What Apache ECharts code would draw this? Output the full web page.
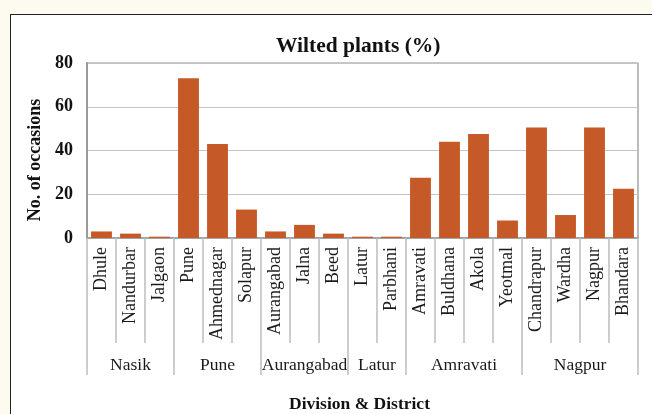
<!DOCTYPE html>
<html>
<head>
<meta charset="utf-8">
<script src="https://cdn.jsdelivr.net/npm/echarts@6/dist/echarts.min.js"></script>
<style>
  html, body { margin: 0; padding: 0; background: #fdfbef; }
  #frame { position: absolute; left: 10px; top: 14px; right: 0; bottom: 0;
           background: #ffffff; border-left: 1.5px solid #222; border-top: 1.5px solid #222; }
  #chart { position: absolute; left: 0; top: 0; width: 652px; height: 414px; }
</style>
</head>
<body>
<div id="frame"></div>
<div id="chart"></div>
<script>
// Districts grouped by division, in drawing order
const districts = ['Dhule', 'Nandurbar', 'Jalgaon', 'Pune', 'Ahmednagar', 'Solapur',
  'Aurangabad', 'Jalna', 'Beed', 'Latur', 'Parbhani', 'Amravati', 'Buldhana', 'Akola',
  'Yeotmal', 'Chandrapur', 'Wardha', 'Nagpur', 'Bhandara'];
// Number of occasions with wilted plants per district
const occasions = [3, 2, 0.6, 73, 43, 13, 3, 6, 2, 0.6, 0.6, 27.5, 44, 47.5, 8, 50.5, 10.5, 50.5, 22.5];
const divisions = ['Nasik', 'Pune', 'Aurangabad', 'Latur', 'Amravati', 'Nagpur'];
const divisionSizes = [3, 3, 3, 2, 4, 4];
const yTicks = [0, 20, 40, 60, 80];

// Division boundaries and centres, in category units along the x axis
const bounds = [0];
divisionSizes.forEach(n => bounds.push(bounds[bounds.length - 1] + n));
const centres = divisionSizes.map((n, i) => bounds[i] + n / 2);

const serif = '"Liberation Serif", "Times New Roman", serif';
const chart = echarts.init(document.getElementById('chart'), null, { renderer: 'canvas' });

chart.setOption({
  backgroundColor: 'transparent',
  animation: false,
  title: [{
    text: 'Wilted plants (%)',
    left: 271, top: 30,
    textStyle: { fontFamily: serif, fontWeight: 'bold', fontSize: 21.5, color: '#111' }
  }, {
    text: 'Division & District',
    left: 284, top: 390,
    textStyle: { fontFamily: serif, fontWeight: 'bold', fontSize: 17.5, color: '#111' }
  }],
  graphic: [{
    type: 'text',
    x: 35, y: 160,
    rotation: Math.PI / 2,
    style: {
      text: 'No. of occasions',
      textAlign: 'center', textVerticalAlign: 'middle',
      font: 'bold 18px ' + serif, fill: '#111'
    }
  }],
  grid: {
    left: 87, top: 63, right: 14, bottom: 176,
    show: true, borderColor: '#8f8f8f', borderWidth: 1.2, backgroundColor: 'transparent'
  },
  yAxis: {
    type: 'value', min: yTicks[0], max: yTicks[yTicks.length - 1], interval: yTicks[1] - yTicks[0],
    axisLine: { show: true, lineStyle: { color: '#9a9a9a', width: 2 } },
    axisTick: { show: false },
    splitLine: { lineStyle: { color: '#c4c4c4', width: 1.2 } },
    axisLabel: { fontFamily: serif, fontWeight: 'bold', fontSize: 18, color: '#111', margin: 14 }
  },
  xAxis: [{
    type: 'category',
    data: districts,
    position: 'bottom',
    axisLine: { show: true, lineStyle: { color: '#9a9a9a', width: 1.5 } },
    axisTick: { show: true, interval: 0, length: 105, lineStyle: { color: '#bdbdbd', width: 1.5 } },
    axisLabel: {
      interval: 0, rotate: 90, margin: 9,
      fontFamily: serif, fontSize: 18, color: '#1a1a1a'
    },
    splitLine: { show: false }
  }, {
    type: 'value',
    min: 0, max: districts.length,
    position: 'bottom',
    axisLine: { show: false },
    axisTick: { show: true, customValues: bounds, length: 137, lineStyle: { color: '#bdbdbd', width: 1.5 } },
    axisLabel: {
      customValues: centres,
      formatter: v => divisions[centres.indexOf(v)] || '',
      margin: 118,
      fontFamily: serif, fontSize: 17.5, color: '#1a1a1a'
    },
    splitLine: { show: false }
  }],
  series: [{
    type: 'bar',
    xAxisIndex: 0,
    data: occasions,
    barCategoryGap: '28%',
    itemStyle: { color: '#c55a28' }
  }]
});
</script>
</body>
</html>
